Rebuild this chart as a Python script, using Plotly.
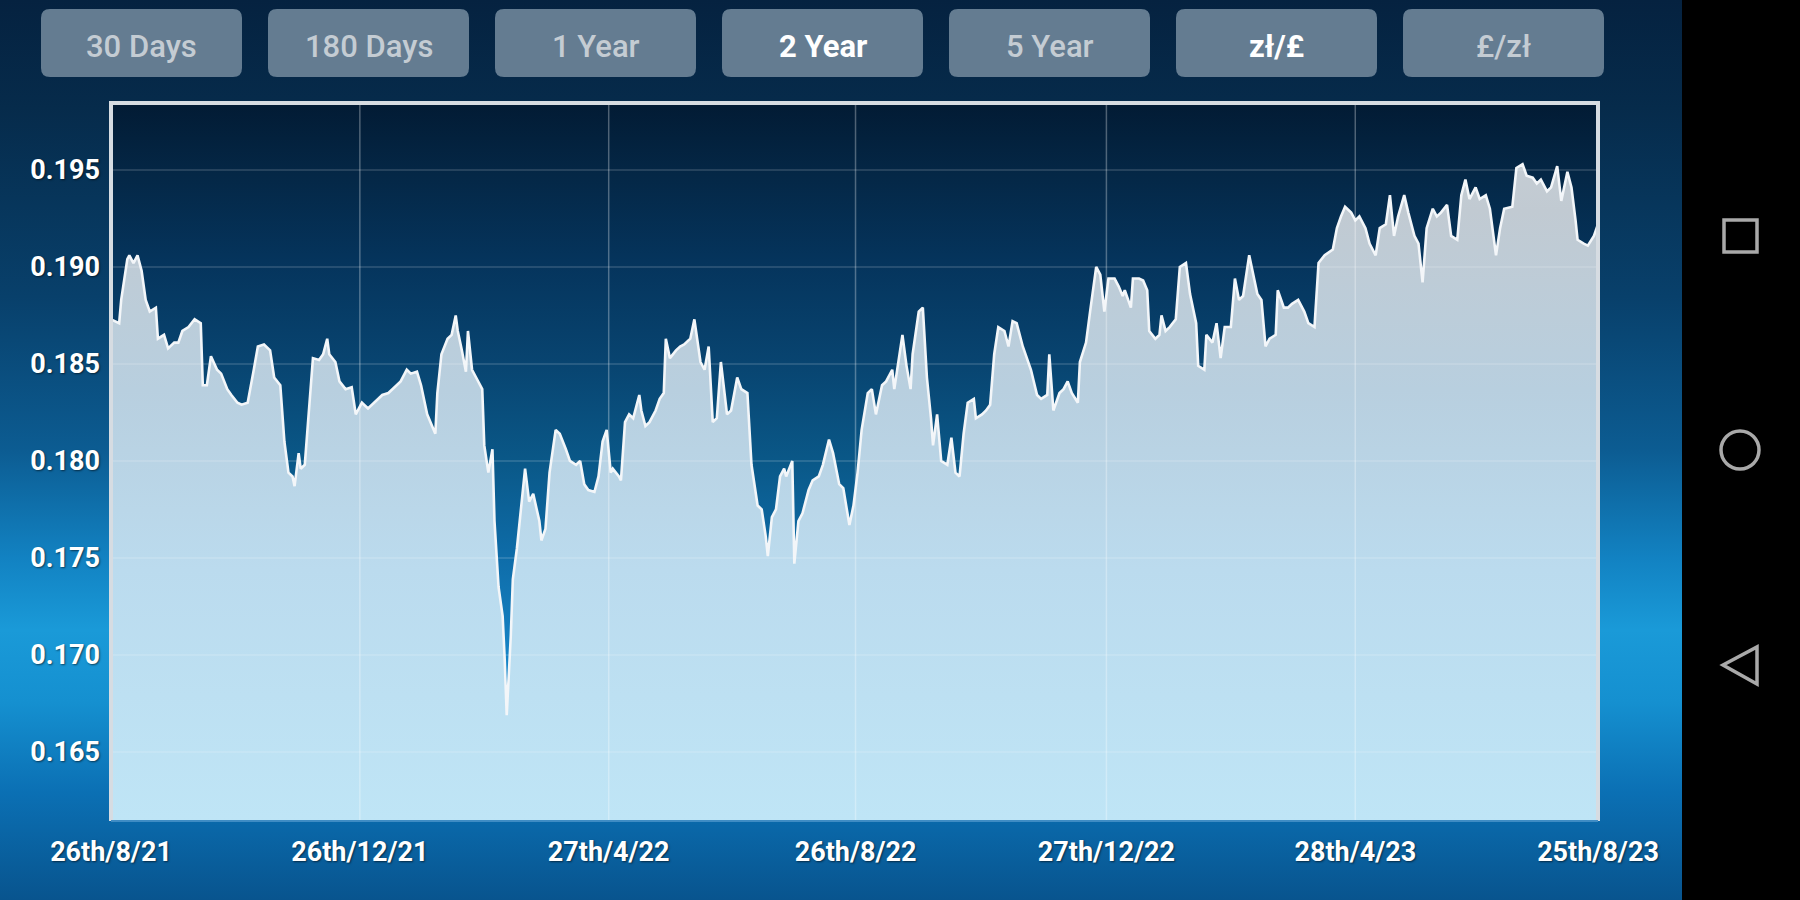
import base64
import pandas as pd
import plotly.graph_objects as go

# ---------------- data ----------------
start_date = "2021-08-26"
day_offset = [
    0, 4, 5, 8, 9, 11, 13, 15, 17, 19, 22, 23, 26, 28, 31, 33, 35, 38, 41, 44,
    45, 47, 49, 52, 54, 57, 59, 62, 64, 67, 70, 72, 75, 78, 80, 83, 85, 87, 89, 90,
    92, 93, 95, 97, 99, 102, 104, 106, 107, 110, 112, 115, 118, 120, 123, 126, 129, 133, 136, 139,
    142, 145, 147, 150, 152, 155, 157, 159, 160, 162, 165, 167, 169, 170, 172, 174, 175, 177, 179, 182,
    183, 185, 187, 188, 190, 192, 193, 194, 196, 197, 199, 201, 203, 205, 207, 210, 211, 213, 215, 218,
    220, 223, 225, 228, 230, 232, 234, 237, 239, 241, 243, 245, 246, 249, 250, 252, 254, 256, 259, 260,
    262, 264, 267, 269, 271, 272, 274, 277, 279, 281, 284, 286, 289, 291, 293, 295, 297, 299, 302, 304,
    307, 309, 312, 314, 317, 319, 321, 322, 324, 326, 328, 330, 331, 334, 335, 337, 339, 342, 344, 347,
    349, 352, 354, 357, 359, 362, 364, 366, 368, 371, 373, 375, 378, 380, 383, 384, 386, 388, 390, 392,
    393, 396, 398, 400, 402, 403, 405, 407, 410, 412, 414, 416, 418, 420, 423, 424, 427, 429, 431, 433,
    435, 438, 440, 442, 444, 447, 449, 451, 454, 456, 459, 460, 462, 465, 467, 469, 471, 474, 475, 478,
    480, 483, 485, 487, 489, 492, 494, 496, 497, 500, 501, 504, 506, 508, 509, 512, 514, 515, 517, 519,
    522, 524, 527, 529, 532, 533, 536, 537, 540, 542, 544, 546, 549, 551, 553, 555, 558, 560, 562, 564,
    566, 568, 571, 572, 575, 577, 579, 582, 585, 587, 590, 592, 595, 599, 601, 603, 605, 608, 610, 612,
    615, 617, 620, 622, 625, 627, 629, 631, 634, 636, 639, 641, 643, 645, 648, 650, 652, 655, 657, 660,
    662, 664, 666, 669, 671, 674, 676, 679, 681, 683, 687, 689, 692, 694, 697, 699, 701, 704, 706, 709,
    711, 714, 716, 718, 719, 722, 724, 727, 729,
]
rate = [
    0.1873, 0.1871, 0.1883, 0.1904, 0.1906, 0.1902, 0.1906, 0.1898, 0.1883, 0.1877, 0.1879, 0.1863, 0.1865, 0.1858, 0.1861, 0.1861, 0.1867, 0.1869, 0.1873, 0.1871,
    0.1839, 0.1839, 0.1854, 0.1847, 0.1845, 0.1837, 0.1834, 0.1830, 0.1829, 0.1830, 0.1847, 0.1859, 0.1860, 0.1857, 0.1843, 0.1839, 0.1810, 0.1794, 0.1792, 0.1787,
    0.1804, 0.1796, 0.1798, 0.1828, 0.1853, 0.1852, 0.1855, 0.1863, 0.1855, 0.1851, 0.1841, 0.1837, 0.1838, 0.1824, 0.1830, 0.1827, 0.1830, 0.1834, 0.1835, 0.1838,
    0.1841, 0.1847, 0.1845, 0.1846, 0.1839, 0.1824, 0.1819, 0.1814, 0.1835, 0.1855, 0.1863, 0.1865, 0.1875, 0.1867, 0.1857, 0.1846, 0.1867, 0.1847, 0.1843, 0.1837,
    0.1808, 0.1794, 0.1806, 0.1769, 0.1735, 0.1720, 0.1698, 0.1669, 0.1710, 0.1739, 0.1755, 0.1777, 0.1796, 0.1779, 0.1783, 0.1769, 0.1759, 0.1765, 0.1794, 0.1816,
    0.1814, 0.1806, 0.1800, 0.1798, 0.1800, 0.1788, 0.1785, 0.1784, 0.1792, 0.1810, 0.1816, 0.1794, 0.1796, 0.1792, 0.1790, 0.1820, 0.1824, 0.1822, 0.1834, 0.1826,
    0.1818, 0.1820, 0.1826, 0.1832, 0.1835, 0.1863, 0.1853, 0.1857, 0.1859, 0.1860, 0.1863, 0.1873, 0.1851, 0.1847, 0.1859, 0.1820, 0.1822, 0.1851, 0.1824, 0.1826,
    0.1843, 0.1837, 0.1835, 0.1798, 0.1777, 0.1775, 0.1761, 0.1751, 0.1771, 0.1775, 0.1792, 0.1796, 0.1792, 0.1800, 0.1747, 0.1769, 0.1773, 0.1785, 0.1790, 0.1792,
    0.1798, 0.1811, 0.1804, 0.1788, 0.1786, 0.1767, 0.1777, 0.1794, 0.1816, 0.1835, 0.1837, 0.1824, 0.1839, 0.1841, 0.1847, 0.1837, 0.1851, 0.1865, 0.1849, 0.1837,
    0.1855, 0.1877, 0.1879, 0.1843, 0.1822, 0.1808, 0.1824, 0.1800, 0.1798, 0.1812, 0.1794, 0.1792, 0.1814, 0.1830, 0.1832, 0.1822, 0.1824, 0.1826, 0.1829, 0.1855,
    0.1869, 0.1867, 0.1859, 0.1872, 0.1871, 0.1859, 0.1853, 0.1847, 0.1834, 0.1832, 0.1834, 0.1855, 0.1826, 0.1835, 0.1837, 0.1841, 0.1835, 0.1830, 0.1851, 0.1861,
    0.1877, 0.1900, 0.1896, 0.1877, 0.1894, 0.1894, 0.1890, 0.1885, 0.1888, 0.1879, 0.1894, 0.1894, 0.1893, 0.1888, 0.1867, 0.1863, 0.1865, 0.1875, 0.1867, 0.1869,
    0.1873, 0.1900, 0.1902, 0.1886, 0.1871, 0.1849, 0.1847, 0.1865, 0.1861, 0.1871, 0.1853, 0.1869, 0.1869, 0.1894, 0.1883, 0.1885, 0.1906, 0.1896, 0.1886, 0.1883,
    0.1859, 0.1863, 0.1865, 0.1888, 0.1879, 0.1879, 0.1881, 0.1883, 0.1877, 0.1871, 0.1869, 0.1902, 0.1906, 0.1909, 0.1920, 0.1926, 0.1931, 0.1928, 0.1924, 0.1926,
    0.1920, 0.1912, 0.1906, 0.1920, 0.1922, 0.1937, 0.1916, 0.1926, 0.1937, 0.1928, 0.1916, 0.1912, 0.1892, 0.1920, 0.1930, 0.1926, 0.1928, 0.1932, 0.1916, 0.1914,
    0.1937, 0.1945, 0.1935, 0.1941, 0.1935, 0.1937, 0.1930, 0.1906, 0.1920, 0.1930, 0.1931, 0.1951, 0.1953, 0.1947, 0.1946, 0.1943, 0.1945, 0.1939, 0.1941, 0.1952,
    0.1934, 0.1949, 0.1941, 0.1924, 0.1914, 0.1912, 0.1911, 0.1916, 0.1922,
]
tick_dates = ["2021-08-26", "2021-12-26", "2022-04-27", "2022-08-26",
              "2022-12-27", "2023-04-28", "2023-08-25"]
tick_labels = ["26th/8/21", "26th/12/21", "27th/4/22", "26th/8/22",
               "27th/12/22", "28th/4/23", "25th/8/23"]
y_ticks = [0.165, 0.170, 0.175, 0.180, 0.185, 0.190, 0.195]
buttons = ["30 Days", "180 Days", "1 Year", "2 Year", "5 Year", "zł/£", "£/zł"]
selected = ["2 Year", "zł/£"]

dates = pd.Timestamp(start_date) + pd.to_timedelta(day_offset, unit="D")

# ---------------- geometry helpers ----------------
W, H = 1800, 900
L, R, T, B = 111, 1598, 103, 821
Y_MIN, Y_MAX = 0.16144, 0.19845


def px(x):
    return (x - L) / (R - L)


def py(y):
    return (B - y) / (B - T)


def svg_gradient(stops, w, h):
    st = "".join(f'<stop offset="{o}" stop-color="{c}"/>' for o, c in stops)
    svg = (f'<svg xmlns="http://www.w3.org/2000/svg" width="{w}" height="{h}" '
           f'viewBox="0 0 {w} {h}" preserveAspectRatio="none">'
           f'<defs><linearGradient id="g" x1="0" y1="0" x2="0" y2="1">{st}</linearGradient></defs>'
           f'<rect width="{w}" height="{h}" fill="url(#g)"/></svg>')
    return "data:image/svg+xml;base64," + base64.b64encode(svg.encode()).decode()


page_bg = svg_gradient([(0, "#052240"), (0.12, "#062b4b"), (0.33, "#08406b"),
                        (0.5, "#0c5c92"), (0.62, "#1282c2"), (0.70, "#1a9ad8"),
                        (0.78, "#1590d0"), (0.88, "#0b70b4"), (1, "#08548e")], W, H)
plot_bg = svg_gradient([(0, "#021b34"), (0.1, "#042746"), (0.22, "#05345c"),
                        (0.36, "#084470"), (0.5, "#0a5888"), (0.63, "#0e6ca8"),
                        (0.77, "#1784c6"), (0.9, "#1c96da"), (1, "#1f9fe2")], 400, 400)

fig = go.Figure()
fig.add_trace(go.Scatter(
    x=dates, y=rate, mode="lines",
    line=dict(color="#f3f6f9", width=2.6),
    fill="tozeroy",
    fillgradient=dict(type="vertical", start=Y_MIN, stop=Y_MAX,
                      colorscale=[[0, "#bfe5f6"], [0.35, "#bbdbee"], [0.6, "#b8cfdf"],
                                  [0.85, "#c1cad2"], [1, "#c9d0d6"]]),
    hoverinfo="skip", showlegend=False,
))

shapes = []
# grid lines over the fill
for d in tick_dates:
    shapes.append(dict(type="line", xref="x", yref="paper", x0=d, x1=d, y0=0, y1=1,
                       line=dict(color="rgba(255,255,255,0.30)", width=1.5), layer="above"))
for v in y_ticks:
    shapes.append(dict(type="line", xref="paper", yref="y", x0=0, x1=1, y0=v, y1=v,
                       line=dict(color="rgba(255,255,255,0.18)", width=1.5), layer="above"))
# plot border
shapes.append(dict(type="path", xref="paper", yref="paper",
                   path=f"M {px(L)},{py(B)} L {px(L)},{py(T)} L {px(R)},{py(T)} L {px(R)},{py(B)}",
                   line=dict(color="#d6dce2", width=4)))
shapes.append(dict(type="line", xref="paper", yref="paper", x0=0, x1=1, y0=0, y1=0,
                   line=dict(color="#3f8cc4", width=2)))
# black navigation bar
shapes.append(dict(type="rect", xref="paper", yref="paper", x0=px(1682), x1=px(W + 5),
                   y0=py(H + 5), y1=py(-5), fillcolor="#000000", line=dict(width=0)))
nav_col = "#a9a9a9"
shapes.append(dict(type="rect", xref="paper", yref="paper", x0=px(1724), x1=px(1757),
                   y0=py(252), y1=py(220), line=dict(color=nav_col, width=3.5)))
shapes.append(dict(type="circle", xref="paper", yref="paper", x0=px(1721), x1=px(1759),
                   y0=py(469), y1=py(431), line=dict(color=nav_col, width=3.5)))
shapes.append(dict(type="path", xref="paper", yref="paper",
                   path=f"M {px(1723)},{py(665)} L {px(1757)},{py(647)} L {px(1757)},{py(684)} Z",
                   line=dict(color=nav_col, width=3.5)))


# buttons
def rounded(x0, y0, x1, y1, r):
    p = [f"M {px(x0 + r)},{py(y0)}", f"L {px(x1 - r)},{py(y0)}",
         f"Q {px(x1)},{py(y0)} {px(x1)},{py(y0 + r)}", f"L {px(x1)},{py(y1 - r)}",
         f"Q {px(x1)},{py(y1)} {px(x1 - r)},{py(y1)}", f"L {px(x0 + r)},{py(y1)}",
         f"Q {px(x0)},{py(y1)} {px(x0)},{py(y1 - r)}", f"L {px(x0)},{py(y0 + r)}",
         f"Q {px(x0)},{py(y0)} {px(x0 + r)},{py(y0)} Z"]
    return " ".join(p)


annotations = []
bx0, bw, bstep, by0, by1 = 41, 201, 227, 9, 77
for i, lab in enumerate(buttons):
    x0 = bx0 + i * bstep
    shapes.append(dict(type="path", xref="paper", yref="paper",
                       path=rounded(x0, by0, x0 + bw, by1, 9),
                       fillcolor="#647c91", line=dict(width=0)))
    sel = lab in selected
    annotations.append(dict(
        xref="paper", yref="paper", x=px(x0 + bw / 2), y=py((by0 + by1) / 2 + 3),
        text=lab, showarrow=False, xanchor="center", yanchor="middle",
        font=dict(family="Roboto", size=31, color="#ffffff" if sel else "#c4ccd3",
                  weight="bold" if sel else 500),
    ))

tick_font = dict(family="Roboto", size=27, color="#ffffff", weight="bold",
                 shadow="1px 1px 2px rgba(0,0,0,0.55)")

fig.update_layout(
    width=W, height=H, autosize=False,
    margin=dict(l=L, r=W - R, t=T, b=H - B, pad=0),
    paper_bgcolor="#0a4a7a", plot_bgcolor="rgba(0,0,0,0)",
    showlegend=False,
    xaxis=dict(type="date", range=[tick_dates[0], tick_dates[-1]], showgrid=False,
               zeroline=False, showline=False, tickmode="array", tickvals=tick_dates,
               ticktext=tick_labels, ticks="", tickfont=tick_font, ticklabelstandoff=12,
               fixedrange=True),
    yaxis=dict(range=[Y_MIN, Y_MAX], showgrid=False, zeroline=False, showline=False,
               tickmode="array", tickvals=y_ticks, ticktext=[f"{v:.3f}" for v in y_ticks],
               ticks="", tickfont=tick_font, ticklabelstandoff=10, fixedrange=True),
    images=[
        dict(source=page_bg, xref="paper", yref="paper", x=px(0), y=py(0),
             sizex=px(W) - px(0), sizey=py(0) - py(H), xanchor="left", yanchor="top",
             sizing="stretch", layer="below"),
        dict(source=plot_bg, xref="paper", yref="paper", x=0, y=1, sizex=1, sizey=1,
             xanchor="left", yanchor="top", sizing="stretch", layer="below"),
    ],
    shapes=shapes,
    annotations=annotations,
)

fig.write_html("out.html", config={"displayModeBar": False},
               post_script="document.body.style.margin='0px';document.body.style.overflow='hidden';")
